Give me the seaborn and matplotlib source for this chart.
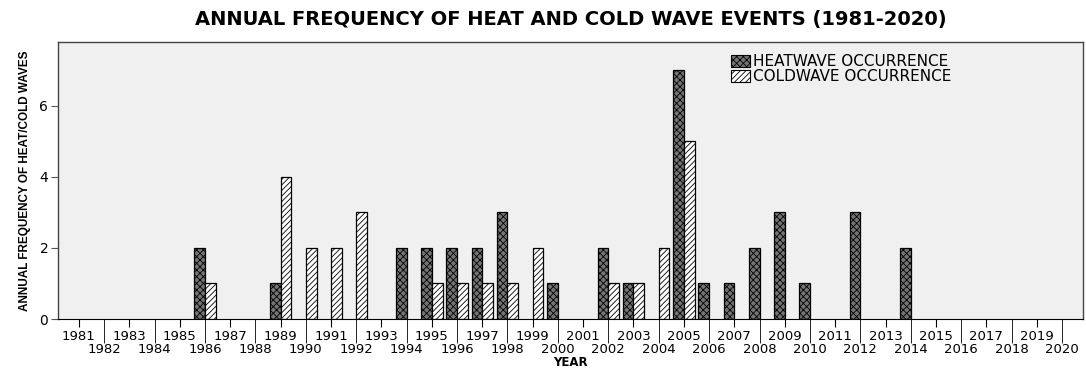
import pandas as pd
import matplotlib
matplotlib.use('Agg')
import matplotlib.pyplot as plt
import seaborn as sns
from matplotlib.patches import Patch
from matplotlib import font_manager

# данные
years = list(range(1981, 2021))
heatwave = [0, 0, 0, 0, 0, 2, 0, 0, 1, 0,
            0, 0, 0, 2, 2, 2, 2, 3, 0, 1,
            0, 2, 1, 0, 7, 1, 1, 2, 3, 1,
            0, 3, 0, 2, 0, 0, 0, 0, 0, 0]
coldwave = [0, 0, 0, 0, 0, 1, 0, 0, 4, 2,
            2, 3, 0, 0, 1, 1, 1, 1, 2, 0,
            0, 1, 1, 2, 5, 0, 0, 0, 0, 0,
            0, 0, 0, 0, 0, 0, 0, 0, 0, 0]
series_names = ['HEATWAVE OCCURRENCE', 'COLDWAVE OCCURRENCE']

df = pd.DataFrame({
    'year': years * 2,
    'value': heatwave + coldwave,
    'type': [series_names[0]] * len(years) + [series_names[1]] * len(years),
})

sns.set_style('ticks')
plt.rcParams['font.family'] = ['DejaVu Sans']
plt.rcParams['hatch.linewidth'] = 0.6
for k in ['text.color', 'axes.labelcolor', 'xtick.color', 'ytick.color']:
    plt.rcParams[k] = 'black'

fig = plt.figure(figsize=(10.86, 3.69), dpi=100)
ax = fig.add_axes([0.0534, 0.1355, 0.9438, 0.7505])
ax.set_facecolor('#f0f0f0')

sns.barplot(data=df, x='year', y='value', hue='type', hue_order=series_names,
            width=0.85, dodge=True, ax=ax, errorbar=None,
            palette=['#747474', 'white'], edgecolor='black', linewidth=0.9)

# штриховка как в SPSS
for cont, hatch in zip(ax.containers, ['xxxxx', '//////']):
    for bar in cont:
        bar.set_hatch(hatch)
        if bar.get_height() == 0:
            bar.set_visible(False)

ax.set_xlim(-0.83, 39.83)
ax.set_ylim(0, 7.8)
ax.set_yticks([0, 2, 4, 6])
ax.tick_params(axis='y', labelsize=10, length=5, color='#555555', pad=2)

# нечётные годы - короткие тики, чётные - длинные, подписи в два ряда
odd_pos = list(range(0, 40, 2))
even_pos = list(range(1, 40, 2))
ax.set_xticks(odd_pos, [str(years[i]) for i in odd_pos])
ax.set_xticks(even_pos, [str(years[i]) for i in even_pos], minor=True)
ax.tick_params(axis='x', which='major', length=6, labelsize=9.5, pad=2, color='black')
ax.tick_params(axis='x', which='minor', length=17, labelsize=9.5, pad=0.5, color='black')

for s in ['left', 'top', 'right']:
    ax.spines[s].set_color('#444444')
    ax.spines[s].set_linewidth(1)
ax.spines['bottom'].set_color('black')

# узкий шрифт для подписи оси Y, если есть
names = {f.name for f in font_manager.fontManager.ttflist}
if 'Liberation Sans Narrow' in names:
    yfam, ysize = 'Liberation Sans Narrow', 10.5
else:
    yfam, ysize = 'Liberation Sans', 8.5

ax.set_xlabel('YEAR', fontsize=8.5, fontweight='bold')
ax.xaxis.set_label_coords(0.5, -0.132)
ax.set_ylabel('ANNUAL FREQUENCY OF HEAT/COLD WAVES', fontsize=ysize, fontweight='bold',
              family=yfam, labelpad=6)
ax.set_title('ANNUAL FREQUENCY OF HEAT AND COLD WAVE EVENTS (1981-2020)',
             fontsize=14, fontweight='bold', pad=12)

handles = [Patch(facecolor='#747474', edgecolor='black', hatch='xxxxx', linewidth=0.8),
           Patch(facecolor='white', edgecolor='black', hatch='//////', linewidth=0.8)]
ax.legend(handles, series_names, loc='upper left', bbox_to_anchor=(0.645, 1.0),
          frameon=False, fontsize=11, handlelength=1.2, handleheight=0.8,
          handletextpad=0.2, labelspacing=0.0, borderpad=0.3)

fig.savefig('out.png', dpi=100)
